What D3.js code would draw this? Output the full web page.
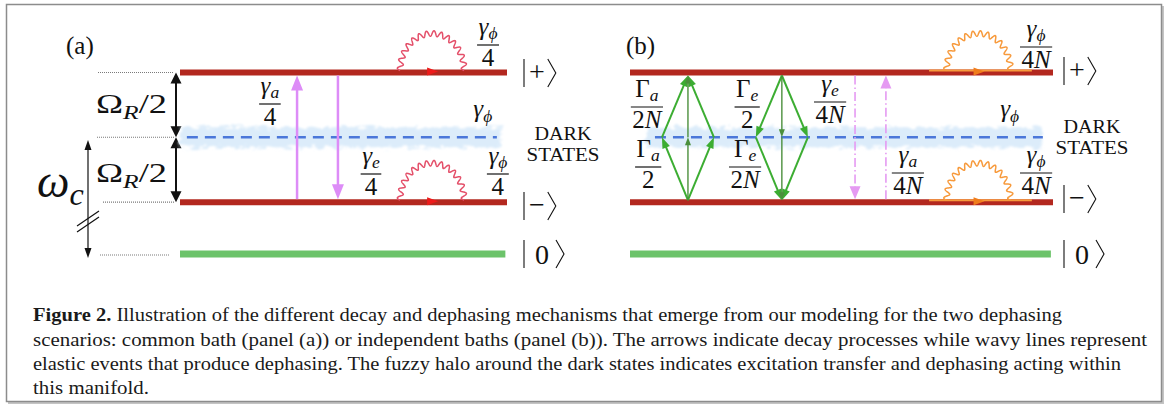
<!DOCTYPE html>
<html>
<head>
<meta charset="utf-8">
<script src="https://cdn.jsdelivr.net/npm/d3@7"></script>
<style>
  body { margin: 0; background: #fff; }
  svg { display: block; }
</style>
</head>
<body>
<script>
// energy levels, in units of Omega_R/2
var levelNames = ['plus', 'dark', 'minus', 'ground'];
var levelEnergy = [1, 0, -1, -1.8];
var ketSymbols = ['+', '', '\u2212', '0'];
var panelNames = ['(a)', '(b)'];

// panel (a): common bath
var violetA = [['minus', 'plus'], ['plus', 'minus']];
var labelsA = [
  { num: 'γ_a', den: '4' },
  { num: 'γ_e', den: '4' },
  { num: 'γ_ϕ', den: '4' },
  { num: 'γ_ϕ', den: '4' }
];
// panel (b): independent baths
var violetB = [['plus', 'minus'], ['minus', 'plus']];
var greenUp = [['minus', 'left'], ['minus', 'right'], ['left', 'plus'], ['right', 'plus'], ['minus', 'dark'], ['dark', 'plus']];
var greenDown = [['plus', 'left'], ['plus', 'right'], ['left', 'minus'], ['right', 'minus'], ['plus', 'dark'], ['dark', 'minus']];
var labelsB = [
  { num: 'Γ_a', den: '2N' },
  { num: 'Γ_a', den: '2' },
  { num: 'Γ_e', den: '2' },
  { num: 'Γ_e', den: '2N' },
  { num: 'γ_e', den: '4N' },
  { num: 'γ_a', den: '4N' },
  { num: 'γ_ϕ', den: '4N' },
  { num: 'γ_ϕ', den: '4N' }
];
var darkLabel = ['DARK', 'STATES'];
var captionBold = 'Figure 2.';
var captionLines = [
  ' Illustration of the different decay and dephasing mechanisms that emerge from our modeling for the two dephasing',
  'scenarios: common bath (panel (a)) or independent baths (panel (b)). The arrows indicate decay processes while wavy lines represent',
  'elastic events that produce dephasing. The fuzzy halo around the dark states indicates excitation transfer and dephasing acting within',
  'this manifold.'
];

var W = 1168, H = 412;
var serif = '"Liberation Serif", "Times New Roman", "DejaVu Serif", serif';

var y = d3.scaleLinear().domain([-1.8, 1]).range([254, 72.5]);
function ly(name) { return y(levelEnergy[levelNames.indexOf(name)]); }
var xa = d3.scaleLinear().domain([0, 1]).range([180, 507]);
var xb = d3.scaleLinear().domain([0, 1]).range([630, 1053]);

var svg = d3.select('body').append('svg')
  .attr('width', W)
  .attr('height', H);

var defs = svg.append('defs');
var fz = defs.append('filter').attr('id', 'fuzz')
  .attr('x', '-5%').attr('y', '-80%').attr('width', '110%').attr('height', '260%');
fz.append('feTurbulence').attr('type', 'fractalNoise')
  .attr('baseFrequency', '0.12 0.25').attr('numOctaves', 3).attr('seed', 7).attr('result', 'n');
fz.append('feDisplacementMap').attr('in', 'SourceGraphic').attr('in2', 'n')
  .attr('scale', 11).attr('xChannelSelector', 'R').attr('yChannelSelector', 'G').attr('result', 'd');
fz.append('feGaussianBlur').attr('in', 'd').attr('stdDeviation', 0.9);

// frame
svg.append('path')
  .attr('d', 'M1163,6V403H8')
  .attr('fill', 'none').attr('stroke', '#c4c4c4').attr('stroke-width', 2);
svg.append('rect')
  .attr('x', 6.5).attr('y', 4.5).attr('width', 1155).attr('height', 397)
  .attr('fill', 'none').attr('stroke', '#8c8c8c').attr('stroke-width', 1.5);

// ---- helpers ----
function isItalic(c) { return /[A-Za-zγϕω]/.test(c); }

function math(g, x, yy, s, size, anchor, shift, len) {
  shift = shift || 0.2;
  var t = g.append('text')
    .attr('x', x).attr('y', yy)
    .attr('font-family', serif)
    .attr('font-size', size)
    .attr('text-anchor', anchor || 'start')
    .attr('fill', '#111');
  if (len) t.attr('textLength', len).attr('lengthAdjust', 'spacingAndGlyphs');
  var wasSub = false;
  for (var i = 0; i < s.length; i++) {
    var c = s[i], sub = false;
    if (c === '_') { c = s[i + 1]; sub = true; i++; }
    var ts = t.append('tspan').text(c)
      .attr('font-style', isItalic(c) ? 'italic' : 'normal');
    if (sub) {
      ts.attr('font-size', size * 0.7);
      if (!wasSub) ts.attr('dy', size * shift);
    } else if (wasSub) {
      ts.attr('dy', -size * shift);
    }
    wasSub = sub;
  }
  return t;
}

function frac(g, cx, lineY, num, den, size) {
  size = size || 25;
  var n = math(g, cx, lineY - 10, num, size, 'middle', 0.16);
  var d = math(g, cx, lineY + 21, den, size, 'middle');
  var w = Math.max(n.node().getComputedTextLength(), d.node().getComputedTextLength()) + 3;
  g.append('line')
    .attr('x1', cx - w / 2).attr('x2', cx + w / 2)
    .attr('y1', lineY).attr('y2', lineY)
    .attr('stroke', '#111').attr('stroke-width', 1.2);
}

function head(g, x, yy, ux, uy, hl, hw, color) {
  var bx = x - ux * hl, by = yy - uy * hl, px = -uy, py = ux;
  var pts = [[x, yy], [bx + px * hw / 2, by + py * hw / 2], [bx - px * hw / 2, by - py * hw / 2]];
  g.append('path').attr('d', d3.line()(pts) + 'Z').attr('fill', color);
}

function arrow(g, x1, y1, x2, y2, o) {
  var dx = x2 - x1, dy = y2 - y1, L = Math.sqrt(dx * dx + dy * dy);
  var ux = dx / L, uy = dy / L;
  var sx = x1, sy = y1;
  if (o.both) { sx = x1 + ux * o.hl * 0.8; sy = y1 + uy * o.hl * 0.8; }
  g.append('line')
    .attr('x1', sx).attr('y1', sy)
    .attr('x2', x2 - ux * o.hl * 0.8).attr('y2', y2 - uy * o.hl * 0.8)
    .attr('stroke', o.color).attr('stroke-width', o.w)
    .attr('stroke-dasharray', o.dash || null);
  head(g, x2, y2, ux, uy, o.hl, o.hw, o.color);
  if (o.both) head(g, x1, y1, -ux, -uy, o.hl, o.hw, o.color);
}

function wavy(g, cx, by, rx, ry, color) {
  var pts = d3.range(0, 601).map(function(i) {
    var a = Math.PI * i / 600;
    var k = 2.8 * Math.sin(28 * a);
    return [cx - (rx + k) * Math.cos(a), by - (ry + k) * Math.sin(a)];
  });
  g.append('path').attr('d', d3.line()(pts))
    .attr('fill', 'none').attr('stroke', color).attr('stroke-width', 1.5);
}

function ket(g, x0, yc, sym) {
  g.append('line')
    .attr('x1', x0).attr('x2', x0).attr('y1', yc - 14).attr('y2', yc + 14)
    .attr('stroke', '#111').attr('stroke-width', 1.1);
  var pad = sym === '0' ? 11 : 5;
  var t = g.append('text')
    .attr('x', x0 + pad).attr('y', sym === '0' ? yc + 9.5 : yc + 7.5)
    .attr('font-family', serif).attr('font-size', 28).attr('fill', '#111')
    .text(sym);
  var ax = x0 + pad + t.node().getComputedTextLength() + (sym === '0' ? 7 : 3);
  g.append('path')
    .attr('d', d3.line()([[ax, yc - 14], [ax + 8, yc], [ax, yc + 14]]))
    .attr('fill', 'none').attr('stroke', '#111').attr('stroke-width', 1.1);
}

function levels(g, x, ketX, ketY, halo) {
  // halo around dark states
  g.append('rect')
    .attr('x', x(halo[0])).attr('y', ly('dark') - 10)
    .attr('width', x(halo[1]) - x(halo[0])).attr('height', 20)
    .attr('fill', '#dcecfa').attr('filter', 'url(#fuzz)');
  ['plus', 'minus'].forEach(function(n) {
    g.append('line')
      .attr('x1', x(0)).attr('x2', x(1))
      .attr('y1', ly(n)).attr('y2', ly(n))
      .attr('stroke', '#b3281f').attr('stroke-width', 6);
  });
  g.append('line')
    .attr('x1', x(0)).attr('x2', x(0.995))
    .attr('y1', ly('ground')).attr('y2', ly('ground'))
    .attr('stroke', '#6cc36a').attr('stroke-width', 7);
  levelNames.forEach(function(n, i) {
    if (ketSymbols[i]) ket(g, ketX, ketY[i], ketSymbols[i]);
  });
}

function dashed(g, x, a, b) {
  g.append('line')
    .attr('x1', x(a)).attr('x2', x(b))
    .attr('y1', ly('dark')).attr('y2', ly('dark'))
    .attr('stroke', '#4b77d9').attr('stroke-width', 2.5)
    .attr('stroke-dasharray', '11,7');
}

function bath(g, x, pos, color, tri, line) {
  ['plus', 'minus'].forEach(function(n) {
    if (line) {
      g.append('line')
        .attr('x1', x(line[0])).attr('x2', x(line[1]))
        .attr('y1', ly(n) - 2).attr('y2', ly(n) - 2)
        .attr('stroke', color).attr('stroke-width', 2);
    }
    wavy(g, x(pos), ly(n) - 2, 32, 37, color);
    head(g, x(pos) + 6, ly(n) - 1, 1, 0, 11, 8, tri);
  });
}

function darkStates(g, cx, y1, y2) {
  var widths = [57, 73];
  [y1, y2].forEach(function(yy, i) {
    g.append('text').attr('x', cx).attr('y', yy).attr('text-anchor', 'middle')
      .attr('font-family', serif).attr('font-size', 18.5).attr('fill', '#111')
      .attr('textLength', widths[i]).attr('lengthAdjust', 'spacingAndGlyphs')
      .text(darkLabel[i]);
  });
}

// ---- left annotations ----
var ann = svg.append('g');
[['plus', 98], ['dark', 97], ['minus', 103], ['ground', 100]].forEach(function(d) {
  var yy = ly(d[0]) + (d[0] === 'ground' ? 1 : 0);
  ann.append('line')
    .attr('x1', d[1]).attr('x2', d[0] === 'ground' ? 170 : 174)
    .attr('y1', yy).attr('y2', yy)
    .attr('stroke', '#7a7a7a').attr('stroke-width', 1.1).attr('stroke-dasharray', '1,1');
});
arrow(ann, 176, ly('plus'), 176, ly('dark'), { both: true, hl: 11, hw: 11, w: 2, color: '#111' });
arrow(ann, 176, ly('dark'), 176, ly('minus'), { both: true, hl: 11, hw: 11, w: 2, color: '#111' });
math(ann, 96, 113, 'Ω_R/2', 28, 'start', 0.2, 71);
math(ann, 96, 182, 'Ω_R/2', 28, 'start', 0.2, 71);
arrow(ann, 88, 140, 88, 258, { both: true, hl: 10, hw: 7, w: 1.2, color: '#111' });
ann.append('line').attr('x1', 77).attr('y1', 226).attr('x2', 99).attr('y2', 211).attr('stroke', '#111').attr('stroke-width', 1.2);
ann.append('line').attr('x1', 77).attr('y1', 232).attr('x2', 99).attr('y2', 217).attr('stroke', '#111').attr('stroke-width', 1.2);
math(ann, 37, 197, 'ω_c', 46, 'start', 0.18);

// ---- panel (a) ----
var ga = svg.append('g');
ga.append('text').attr('x', 66).attr('y', 54)
  .attr('font-family', serif).attr('font-size', 25).attr('fill', '#111').text(panelNames[0]);
levels(ga, xa, 524, [73, 0, 206, 254], [0, 0.98]);
dashed(ga, xa, 0.021, 0.969);
bath(ga, xa, 0.771, '#e4506a', '#ee1a1a', null);
var violet = '#dd8cf7';
violetA.forEach(function(d, i) {
  var xx = xa([0.358, 0.483][i]);
  var y1 = ly(d[0]) + (d[0] === 'plus' ? 3 : -3);
  var y2 = ly(d[1]) + (d[1] === 'plus' ? 3 : -3);
  arrow(ga, xx, y1, xx, y2, { hl: 15, hw: 12, w: 2.5, color: violet });
});
frac(ga, xa(0.275), 104, labelsA[0].num, labelsA[0].den);
frac(ga, xa(0.584), 174, labelsA[1].num, labelsA[1].den);
frac(ga, xa(0.942), 45, labelsA[2].num, labelsA[2].den);
frac(ga, xa(0.972), 174, labelsA[3].num, labelsA[3].den);
math(ga, xa(0.897), 117, 'γ_ϕ', 25);
darkStates(ga, 563, 140, 161);

// ---- panel (b) ----
var gb = svg.append('g');
gb.append('text').attr('x', 626).attr('y', 54)
  .attr('font-family', serif).attr('font-size', 25).attr('fill', '#111').text(panelNames[1]);
levels(gb, xb, 1064, [71, 0, 199, 254], [0.038, 0.974]);
dashed(gb, xb, 0.059, 0.976);
bath(gb, xb, 0.824, '#f79a3c', '#f07d1c', [0.707, 0.95]);

function greenGroup(cx, list) {
  var pt = {
    plus: [cx, ly('plus') + 3],
    minus: [cx, ly('minus') - 2],
    dark: [cx, ly('dark')],
    left: [cx - 26, ly('dark')],
    right: [cx + 26, ly('dark')]
  };
  list.forEach(function(d) {
    var a = pt[d[0]], b = pt[d[1]];
    if (a[0] === cx && b[0] === cx) {
      arrow(gb, a[0], a[1], b[0], b[1], { hl: 8, hw: 6, w: 1.4, color: '#4b8f3c' });
    } else {
      arrow(gb, a[0], a[1], b[0], b[1], { hl: 11, hw: 8, w: 2, color: '#3cad32' });
    }
  });
}
greenGroup(xb(0.137), greenUp);
greenGroup(xb(0.359), greenDown);

violetB.forEach(function(d, i) {
  var xx = xb([0.532, 0.605][i]);
  var y1 = ly(d[0]) + (d[0] === 'plus' ? 3 : -3);
  var y2 = ly(d[1]) + (d[1] === 'plus' ? 3 : -3);
  arrow(gb, xx, y1, xx, y2, { hl: 13, hw: 11, w: 1.6, color: '#e59af2', dash: '9,3,1.5,3' });
});
var posB = [[0.040, 107], [0.043, 167], [0.277, 107], [0.272, 167], [0.473, 102], [0.657, 173], [0.960, 47], [0.960, 173]];
labelsB.forEach(function(d, i) {
  frac(gb, xb(posB[i][0]), posB[i][1], d.num, d.den);
});
math(gb, xb(0.875), 117, 'γ_ϕ', 25);
darkStates(gb, 1092, 133, 154);

// ---- caption ----
var capY = [321, 346, 370, 394];
var capLen = [1029, 1114, 1088, 116];
captionLines.forEach(function(line, i) {
  var t = svg.append('text')
    .attr('x', 33).attr('y', capY[i])
    .attr('font-family', serif).attr('font-size', 19).attr('fill', '#1a1a1a')
    .attr('textLength', capLen[i]).attr('lengthAdjust', 'spacingAndGlyphs');
  if (i === 0) t.append('tspan').attr('font-weight', 'bold').text(captionBold);
  t.append('tspan').text(line);
});
</script>
</body>
</html>
